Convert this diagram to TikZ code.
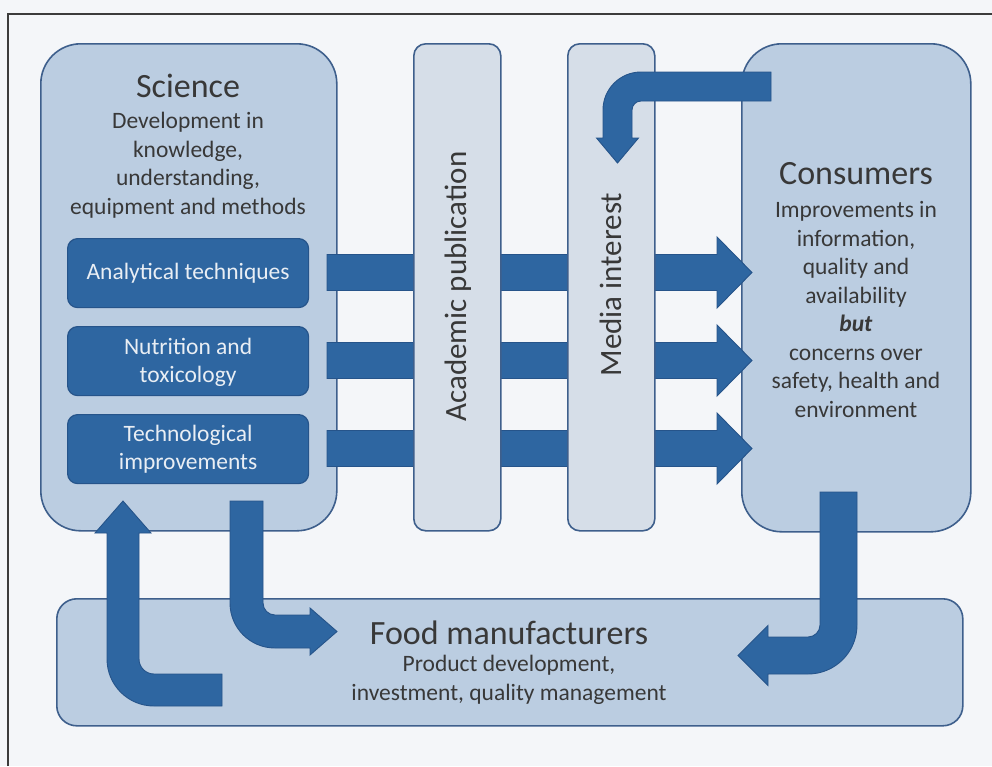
\documentclass[tikz,border=0pt]{standalone}
\usepackage{fontspec}
\setmainfont{Carlito}
\definecolor{pagebg}{HTML}{F4F6F9}
\definecolor{framegray}{HTML}{3C3C3C}
\definecolor{edgeblue}{HTML}{3E5F8C}
\definecolor{panelblue}{HTML}{BBCDE1}
\definecolor{pillarblue}{HTML}{D6DEE8}
\definecolor{deepblue}{HTML}{2E66A1}
\definecolor{deepedge}{HTML}{26548A}
\definecolor{inktext}{HTML}{383838}
\definecolor{palettext}{HTML}{E9EEF4}
\newcommand\headfont{\fontsize{34}{41}\selectfont}
\newcommand\bodyfont{\fontsize{23.5}{28.5}\selectfont}
\newcommand\pillarfont{\fontsize{31}{37}\selectfont}
\begin{document}
\begin{tikzpicture}[x=1pt,y=-1pt,
  panel/.style={draw=edgeblue, line width=1.6pt, fill=panelblue, inner sep=0pt, anchor=north west},
  pillar/.style={draw=edgeblue, line width=1.6pt, fill=pillarblue, inner sep=0pt, anchor=north west,
    rounded corners=12pt, minimum width=87pt, minimum height=487pt},
  topic/.style={draw=deepedge, line width=1.2pt, fill=deepblue, inner sep=0pt, anchor=north west,
    rounded corners=10pt, minimum width=241pt, minimum height=69pt},
  topictext/.style={text=palettext, font=\bodyfont, align=center, inner sep=0pt},
  heading/.style={text=inktext, font=\headfont, inner sep=0pt},
  body/.style={text=inktext, font=\bodyfont, align=center, inner sep=0pt},
  pillartext/.style={text=inktext, font=\pillarfont, rotate=90, inner sep=0pt},
  blockarrow/.style={fill=deepblue, draw=deepedge, line width=0.9pt, line join=miter}]

% page and frame
\fill[pagebg] (0,0) rectangle (992,766);
\useasboundingbox (0,0) rectangle (992,766);
\draw[framegray, line width=1.5pt] (8,766) -- (8,14) -- (992,14);

% main panels
\node[panel, rounded corners=40pt, minimum width=296pt, minimum height=487pt] (science) at (40,43) {};
\node[panel, rounded corners=40pt, minimum width=229pt, minimum height=488pt] (consumers) at (741,43) {};
\node[panel, rounded corners=20pt, minimum width=906pt, minimum height=127pt] (food) at (56,598) {};

% topics inside the science panel
\node[topic] (analytical) at (67,238) {};
\node[topic] (nutrition) at (67,326) {};
\node[topic] (techno) at (67,414) {};
\node[topictext] (analyticaltxt) at (analytical.center) {Analytical techniques};
\node[topictext] (nutritiontxt) at ([yshift=-1.5pt]nutrition.center) {Nutrition and\\toxicology};
\node[topictext] (technotxt) at (techno.center) {Technological\\improvements};

% straight block arrows from science to consumers
\foreach \c/\nm in {272.5/arA, 360.5/arB, 448.5/arC}{
  \fill[blockarrow] (327,\c-18) -- (717,\c-18) -- (717,\c-35.5) -- (752,\c)
    -- (717,\c+35.5) -- (717,\c+18) -- (327,\c+18) -- cycle;
}

% dissemination pillars
\node[pillar] (academic) at (413,43) {};
\node[pillar] (media) at (567,43) {};
\node[pillartext] (academictxt) at (458,286.5) {Academic publication};
\node[pillartext] (mediatxt) at (610.5,284.5) {Media interest};

% consumers -> media
\fill[blockarrow] (771,72) -- (641,72) .. controls (620,72) and (603,89) .. (603,110)
  -- (603,138) -- (596.5,138) -- (617.5,163) -- (638.5,138) -- (632,138)
  -- (632,110) .. controls (632,105) and (636,101) .. (641,101) -- (771,101) -- cycle;

% science -> food manufacturers
\fill[blockarrow] (230,501) -- (263,501) -- (263,603) .. controls (263,609.6) and (268.4,615) .. (275,615)
  -- (310,615) -- (310,608) -- (337,631.5) -- (310,655) -- (310,648)
  -- (275,648) .. controls (250.1,648) and (230,627.9) .. (230,603) -- cycle;

% food manufacturers -> science
\fill[blockarrow] (222,674) -- (154,674) .. controls (145.7,674) and (139,667.3) .. (139,659)
  -- (139,533) -- (151,533) -- (123,501) -- (95,533) -- (107,533)
  -- (107,659) .. controls (107,685) and (128,706) .. (154,706) -- (222,706) -- cycle;

% consumers -> food manufacturers
\fill[blockarrow] (820,492) -- (857,492) -- (857,625) .. controls (857,652.1) and (835.1,674) .. (808,674)
  -- (768,674) -- (768,685.5) -- (738,655.5) -- (768,625.5) -- (768,637)
  -- (808,637) .. controls (814.6,637) and (820,631.6) .. (820,625) -- cycle;

% panel texts
\node[heading] (sciencehd) at (188,86) {Science};
\node[body] (sciencetxt) at (188,165) {Development in\\knowledge,\\understanding,\\equipment and methods};
\node[heading] (consumershd) at (856,174) {Consumers};
\node[body] (consumerstxt) at (856,309.5) {Improvements in\\information,\\quality and\\availability\\\textbf{\textit{but}}\\concerns over\\safety, health and\\environment};
\node[heading] (foodhd) at (509,633) {Food manufacturers};
\node[body] (foodtxt) at (509,680) {Product development,\\investment, quality management};
\end{tikzpicture}
\end{document}
